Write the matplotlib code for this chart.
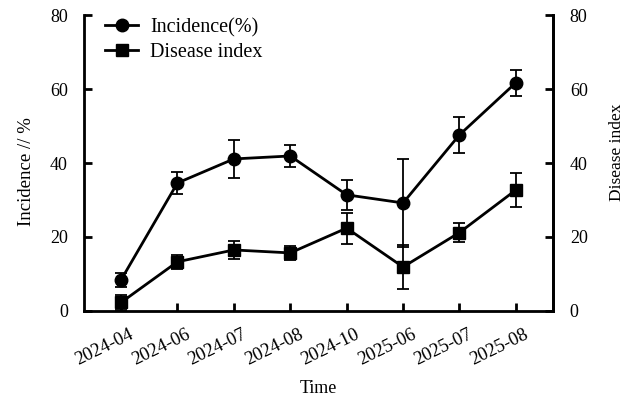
import matplotlib
matplotlib.use("Agg")
import matplotlib.pyplot as plt
from matplotlib.lines import Line2D
from matplotlib.transforms import ScaledTranslation, blended_transform_factory

plt.rcParams['font.family'] = ['Liberation Serif', 'DejaVu Serif']

times = ["2024-04", "2024-06", "2024-07", "2024-08", "2024-10", "2025-06", "2025-07", "2025-08"]
incidence = [8.4, 34.6, 41.1, 41.9, 31.4, 29.2, 47.6, 61.7]
incidence_err = [1.8, 3.0, 5.2, 3.0, 4.1, 11.9, 4.9, 3.5]
disease_index = [2.3, 13.3, 16.5, 15.7, 22.4, 11.9, 21.2, 32.7]
disease_err = [2.0, 1.9, 2.5, 1.9, 4.2, 6.0, 2.6, 4.5]
yticks = [0, 20, 40, 60, 80]

fig = plt.figure(figsize=(6.35, 3.98), dpi=100)
ax = fig.add_axes([0.132, 0.2186, 0.739, 0.7437])
x = list(range(len(times)))

ax.errorbar(x, incidence, yerr=incidence_err, color='black', lw=2, marker='o', ms=9,
            elinewidth=1.3, capsize=4.3, capthick=1.3, zorder=3)
ax.errorbar(x, disease_index, yerr=disease_err, color='black', lw=2, marker='s', ms=8.8,
            elinewidth=1.3, capsize=4.3, capthick=1.3, zorder=3)

ax.set_xlim(-0.66, len(times) - 1 + 0.66)
ax.set_ylim(0, 80)
ax.set_yticks(yticks)
ax.set_xticks(x)
ax.set_xticklabels([])
trans = blended_transform_factory(ax.transData, ax.transAxes) + \
    ScaledTranslation(0.08, -0.15, fig.dpi_scale_trans)
for xi, lab in zip(x, times):
    ax.text(xi, 0, lab, transform=trans, rotation=26, ha='right', va='top',
            rotation_mode='anchor', fontsize=13.5, clip_on=False)

ax.spines['top'].set_visible(False)
for s in ['left', 'bottom', 'right']:
    ax.spines[s].set_linewidth(2)
ax.tick_params(axis='both', direction='in', length=6, width=2)
ax.tick_params(axis='y', labelsize=13, pad=11.5)

ax2 = ax.twinx()
ax2.set_ylim(0, 80)
ax2.set_yticks(yticks)
ax2.spines['top'].set_visible(False)
ax2.spines['right'].set_linewidth(2)
ax2.tick_params(axis='y', direction='in', length=6, width=2, labelsize=13, pad=12)

ax.set_ylabel('Incidence // %', fontsize=13.5)
ax.yaxis.set_label_coords(-0.105, 0.47)
ax2.set_ylabel('Disease index', fontsize=12.5)
ax2.yaxis.set_label_coords(1.119, 0.537)
ax.set_xlabel('Time', fontsize=13)
ax.xaxis.set_label_coords(0.499, -0.232)

handles = [
    Line2D([], [], color='black', lw=2, marker='o', ms=9, label='Incidence(%)'),
    Line2D([], [], color='black', lw=2, marker='s', ms=8.8, label='Disease index'),
]
ax.legend(handles=handles, loc='upper left', frameon=False, prop={'size': 14.5},
          handlelength=1.65, handletextpad=0.6, labelspacing=0.3,
          borderaxespad=0.0, borderpad=0.0, bbox_to_anchor=(0.045, 0.99))

fig.savefig('out.png', dpi=100)
